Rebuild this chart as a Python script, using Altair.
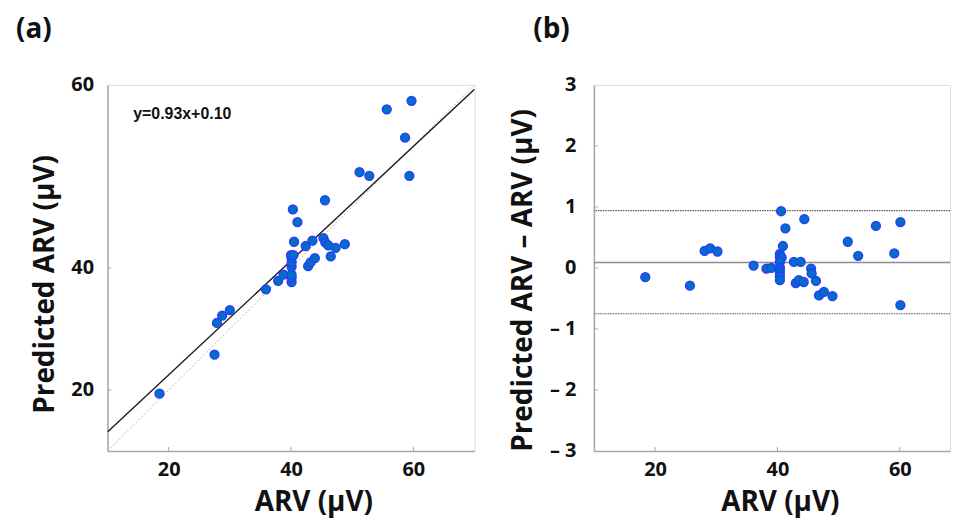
import altair as alt
import pandas as pd

# ---------------- data ----------------
# Panel (a): measured ARV vs predicted ARV (µV)
arv_a = [18.5, 27.5, 27.9, 28.75, 30.0, 35.9, 37.9, 38.8, 40.1, 40.1, 40.1, 40.1,
         40.1, 40.1, 40.0, 40.4, 40.5, 41.05, 40.3, 42.4, 42.8, 43.2, 43.9, 43.5,
         45.3, 45.6, 46.1, 46.5, 47.3, 48.8, 45.55, 51.2, 52.8, 55.65, 58.65, 59.35, 59.7]
pred_a = [19.4, 25.8, 31.0, 32.2, 33.1, 36.5, 37.9, 38.9, 37.7, 38.4, 38.9, 40.2,
          40.9, 41.6, 42.1, 42.1, 44.3, 47.5, 49.6, 43.6, 40.3, 40.9, 41.6, 44.5,
          44.9, 44.2, 43.7, 41.9, 43.3, 43.9, 51.1, 55.7, 55.1, 66.0, 61.35, 55.1, 67.4]

# Panel (b): ARV vs (predicted ARV - ARV) (µV)
arv_b = [18.4, 25.7, 28.1, 29.0, 30.2, 36.1, 38.2, 39.0, 40.4, 40.4, 40.7, 40.4,
         40.4, 40.4, 40.4, 40.4, 40.4, 40.6, 41.3, 40.9, 42.7, 43.8, 43.0, 43.5,
         44.3, 44.4, 45.5, 45.6, 46.3, 46.8, 47.6, 49.0, 51.5, 53.2, 56.1, 59.1, 60.1, 60.1]
diff_b = [-0.15, -0.29, 0.28, 0.32, 0.27, 0.04, -0.01, 0.00, 0.23, 0.18, 0.17, 0.10,
          0.01, -0.03, -0.08, -0.14, -0.20, 0.93, 0.65, 0.36, 0.10, 0.10, -0.25, -0.20,
          -0.23, 0.80, -0.01, -0.09, -0.21, -0.45, -0.39, -0.46, 0.43, 0.20, 0.69, 0.24, 0.75, -0.61]

# fitted line and identity line (panel a)
fit_x = [10, 70]
fit_y = [13.1, 69.3]
ident_xy = [10, 70]
equation = "y=0.93x+0.10"
equation_xy = [14.2, 64.4]

# Bland-Altman lines (panel b)
mean_diff = 0.09
loa_upper = 0.94
loa_lower = -0.75

x_ticks = [20, 40, 60]
ya_ticks = [20, 40, 70]          # top tick of the original axis is labelled "60"
yb_ticks = [-3, -2, -1, 0, 1, 2, 3]

# ---------------- styling ----------------
FONT = "Open Sans"
W_A, W_B, H = 369, 358, 368
XB_MAX = 10 + (70 - 10) * W_B / W_A   # same µV-per-pixel as panel (a); right part cut like the original
AXIS_GREY = "#a6a6a6"
FILL = "#0070c0"
EDGE = "#2a3cff"

df_a = pd.DataFrame({"x": arv_a, "y": pred_a})
df_b = pd.DataFrame({"x": arv_b, "y": diff_b})
df_fit = pd.DataFrame({"x": fit_x, "y": fit_y})
df_id = pd.DataFrame({"x": ident_xy, "y": ident_xy})
df_eq = pd.DataFrame({"x": [equation_xy[0]], "y": [equation_xy[1]], "t": [equation]})
df_xt = pd.DataFrame({"x": x_ticks})
df_yta = pd.DataFrame({"y": ya_ticks[:-1]})
df_ytb = pd.DataFrame({"y": yb_ticks[1:-1]})
df_h = pd.DataFrame({"y": [mean_diff, loa_upper, loa_lower],
                     "k": ["mean", "loa", "loa"]})

common_axis = dict(grid=False, ticks=False, tickSize=0, domainColor=AXIS_GREY,
                   domainWidth=1.5, labelFont=FONT, labelFontSize=20,
                   labelFontWeight="bold", labelColor="#111111",
                   titleFont=FONT, titleFontSize=28, titleFontWeight="bold",
                   titleColor="#111111")

# ---------- panel (a) ----------
xa_scale = alt.Scale(domain=[10, 70], nice=False, zero=False)
ya_scale = alt.Scale(domain=[10, 70], nice=False, zero=False)

xa = alt.X("x:Q", scale=xa_scale,
           axis=alt.Axis(values=x_ticks, title="ARV (μV)", labelPadding=9,
                         titleX=207, titleY=38, **common_axis))
ya = alt.Y("y:Q", scale=ya_scale,
           axis=alt.Axis(values=ya_ticks, title="Predicted ARV (μV)", labelPadding=14,
                         labelExpr="datum.value == 70 ? '60' : datum.label",
                         titleX=-48, titleY=200, **common_axis))

pts_a = alt.Chart(df_a).mark_circle(size=78, opacity=1, fill=FILL, stroke=EDGE,
                                     strokeWidth=1.5).encode(x=xa, y=ya)
ident_line = alt.Chart(df_id).mark_line(color="#b5b5b5", strokeWidth=1,
                                         strokeDash=[2, 2], clip=True).encode(
    x=alt.X("x:Q", scale=xa_scale), y=alt.Y("y:Q", scale=ya_scale))
fit_line = alt.Chart(df_fit).mark_line(color="#1a1a1a", strokeWidth=1.4,
                                        clip=True).encode(
    x=alt.X("x:Q", scale=xa_scale), y=alt.Y("y:Q", scale=ya_scale))
eq_text = alt.Chart(df_eq).mark_text(align="left", baseline="alphabetic",
                                      font="Liberation Sans", fontSize=16,
                                      fontWeight="bold", color="#111111").encode(
    x=alt.X("x:Q", scale=xa_scale), y=alt.Y("y:Q", scale=ya_scale), text="t:N")
xtick_a = alt.Chart(df_xt).mark_rule(color=AXIS_GREY, strokeWidth=1).encode(
    x=alt.X("x:Q", scale=xa_scale), y=alt.value(H), y2=alt.value(H - 4))
ytick_a = alt.Chart(df_yta).mark_rule(color=AXIS_GREY, strokeWidth=1).encode(
    y=alt.Y("y:Q", scale=ya_scale), x=alt.value(0), x2=alt.value(4))

panel_a = alt.layer(ident_line, fit_line, pts_a, eq_text, xtick_a, ytick_a).properties(
    width=W_A, height=H,
    title=alt.TitleParams("(a)", anchor="start", frame="group", dx=-92,
                          font=FONT, fontSize=28, fontWeight="bold",
                          color="#111111", offset=31))

# ---------- panel (b) ----------
xb_scale = alt.Scale(domain=[10, XB_MAX], nice=False, zero=False)
yb_scale = alt.Scale(domain=[-3, 3], nice=False, zero=False)

xb = alt.X("x:Q", scale=xb_scale,
           axis=alt.Axis(values=x_ticks, title="ARV (μV)", labelPadding=9,
                         titleX=187, titleY=38, **common_axis))
yb = alt.Y("y:Q", scale=yb_scale,
           axis=alt.Axis(values=yb_ticks, title="Predicted ARV – ARV (μV)",
                         labelPadding=18,
                         labelExpr="datum.value < 0 ? '– ' + abs(datum.value) : '' + datum.value",
                         titleX=-57, titleY=196, **common_axis))

hlines = alt.Chart(df_h).mark_rule().encode(
    y=alt.Y("y:Q", scale=yb_scale),
    color=alt.Color("k:N", scale=alt.Scale(domain=["mean", "loa"],
                                           range=["#8c8c8c", "#555555"]), legend=None),
    strokeDash=alt.StrokeDash("k:N", scale=alt.Scale(domain=["mean", "loa"],
                                                     range=[[1, 0], [1.5, 1]]), legend=None),
    strokeWidth=alt.StrokeWidth("k:N", scale=alt.Scale(domain=["mean", "loa"],
                                                       range=[1.6, 1.2]), legend=None))
pts_b = alt.Chart(df_b).mark_circle(size=78, opacity=1, fill=FILL, stroke=EDGE,
                                     strokeWidth=1.5).encode(x=xb, y=yb)
xtick_b = alt.Chart(df_xt).mark_rule(color=AXIS_GREY, strokeWidth=1).encode(
    x=alt.X("x:Q", scale=xb_scale), y=alt.value(H), y2=alt.value(H - 4))
ytick_b = alt.Chart(df_ytb).mark_rule(color=AXIS_GREY, strokeWidth=1).encode(
    y=alt.Y("y:Q", scale=yb_scale), x=alt.value(0), x2=alt.value(4))

panel_b = alt.layer(hlines, pts_b, xtick_b, ytick_b).properties(
    width=W_B, height=H,
    title=alt.TitleParams("(b)", anchor="start", frame="group", dx=-61,
                          font=FONT, fontSize=28, fontWeight="bold",
                          color="#111111", offset=31))

chart = alt.hconcat(panel_a, panel_b, spacing=33).properties(
    padding={"left": 7, "top": 6, "right": 0, "bottom": 0}
).configure_view(stroke=None).configure(background="white")

chart.save("out.html", embed_options={"renderer": "svg", "actions": False})
